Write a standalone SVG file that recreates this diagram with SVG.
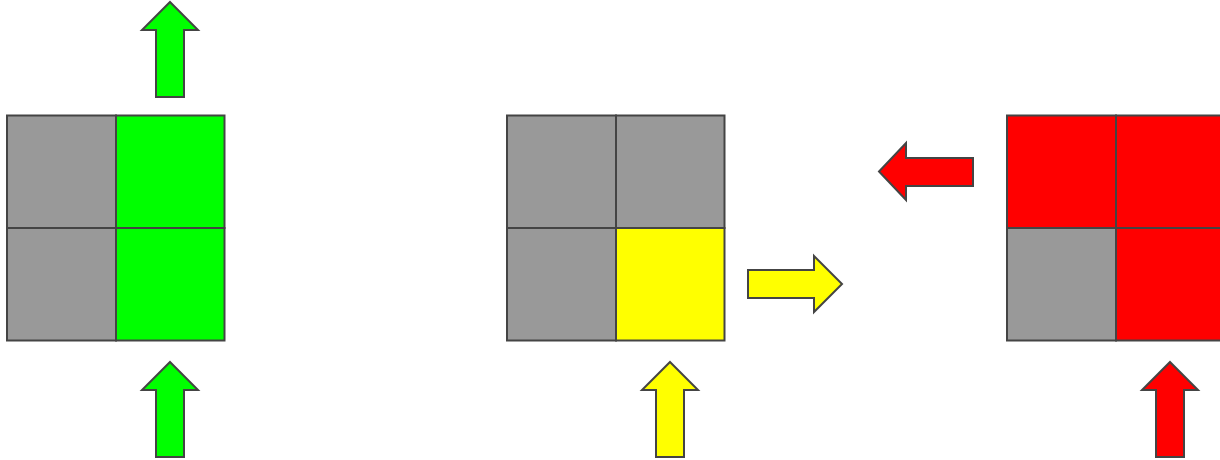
<svg xmlns="http://www.w3.org/2000/svg" width="1220" height="460" viewBox="0 0 1220 460">
<defs>
<style>
.c{stroke:#444;stroke-width:2}
.g{fill:#999}
.gr{fill:#00ff00}
.y{fill:#ffff00}
.r{fill:#ff0000}
.a{stroke:#444;stroke-width:2;stroke-linejoin:miter}
</style>
<path id="up" d="M0,0 L28,28 L14,28 L14,95 L-14,95 L-14,28 L-28,28 Z"/>
</defs>
<g id="grid1">
<rect class="c g" x="7" y="115.5" width="109" height="112.5"/>
<rect class="c gr" x="116" y="115.5" width="108.5" height="112.5"/>
<rect class="c g" x="7" y="228" width="109" height="112.5"/>
<rect class="c gr" x="116" y="228" width="108.5" height="112.5"/>
</g>
<g id="grid2">
<rect class="c g" x="507" y="115.5" width="109" height="112.5"/>
<rect class="c g" x="616" y="115.5" width="108.5" height="112.5"/>
<rect class="c g" x="507" y="228" width="109" height="112.5"/>
<rect class="c y" x="616" y="228" width="108.5" height="112.5"/>
</g>
<g id="grid3">
<rect class="c r" x="1007" y="115.5" width="109" height="112.5"/>
<rect class="c r" x="1116" y="115.5" width="108.5" height="112.5"/>
<rect class="c g" x="1007" y="228" width="109" height="112.5"/>
<rect class="c r" x="1116" y="228" width="108.5" height="112.5"/>
</g>
<g id="connectors">
<use href="#up" class="a gr" transform="translate(170,2)"/>
<use href="#up" class="a gr" transform="translate(170,362)"/>
<use href="#up" class="a y" transform="translate(670,362)"/>
<use href="#up" class="a r" transform="translate(1170,362)"/>
<path class="a y" d="M748,270 L814,270 L814,256 L842,284 L814,312 L814,298 L748,298 Z"/>
<path class="a r" d="M973,158 L906,158 L906,143 L879,171.5 L906,200 L906,186 L973,186 Z"/>
</g>
</svg>
